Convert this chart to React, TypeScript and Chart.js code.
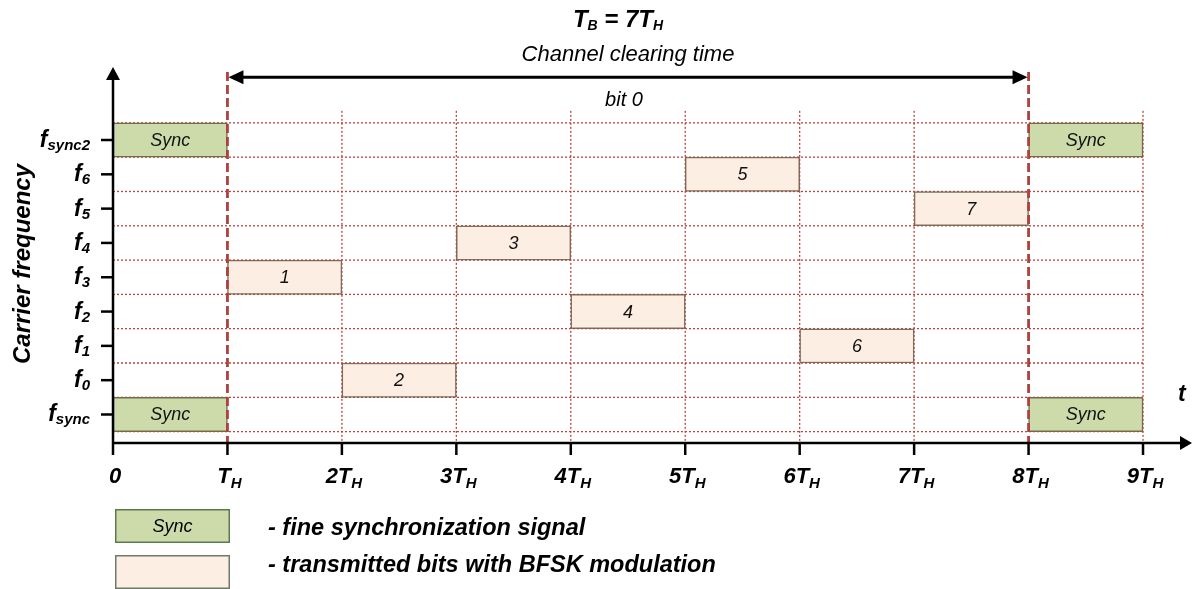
import React, { useEffect, useRef } from "react";
import { Chart, registerables } from "chart.js";

Chart.register(...registerables);

// ---- data ----
const rowMain = ["f", "f", "f", "f", "f", "f", "f", "f", "f"];
const rowSub = ["sync", "0", "1", "2", "3", "4", "5", "6", "sync2"];
const xTickMain = ["0", "T", "2T", "3T", "4T", "5T", "6T", "7T", "8T", "9T"];
const xTickSub = ["", "H", "H", "H", "H", "H", "H", "H", "H", "H"];
const xTickValues = [0, 1, 2, 3, 4, 5, 6, 7, 8, 9];

const syncStart = [0, 8, 0, 8];
const syncEnd = [1, 9, 1, 9];
const syncRow = [0, 0, 8, 8];
const syncText = ["Sync", "Sync", "Sync", "Sync"];

const bitStart = [1, 2, 3, 4, 5, 6, 7];
const bitEnd = [2, 3, 4, 5, 6, 7, 8];
const bitRow = [4, 1, 5, 3, 7, 2, 6];
const bitText = ["1", "2", "3", "4", "5", "6", "7"];

const boundaryMarks = [1, 8];
const gridX = [2, 3, 4, 5, 6, 7, 9];
const gridY = [-0.5, 0.5, 1.5, 2.5, 3.5, 4.5, 5.5, 6.5, 7.5, 8.5];

const legendLabels = ["- fine synchronization signal", "- transmitted bits with BFSK modulation"];
const yTitle = "Carrier frequency";
const bracketText = "Channel clearing time";
const bitLabel = "bit 0";

// ---- styles ----
const FONT = '"Liberation Sans", Arial, sans-serif';
const SYNC_FILL = "#cddbab";
const SYNC_BORDER = "#5b7a4c";
const BIT_FILL = "#fdeee3";
const BIT_BORDER = "#6e7b66";
const GRID = "#b8453f";
const DASH_RED = "#b0403b";

function drawParts(
  ctx: CanvasRenderingContext2D,
  parts: { t: string; sub: boolean }[],
  x: number,
  baseline: number,
  align: "left" | "center" | "right",
  mainFont: string,
  subFont: string,
  subDy: number
) {
  let total = 0;
  const widths = parts.map((p) => {
    ctx.font = p.sub ? subFont : mainFont;
    const w = ctx.measureText(p.t).width;
    total += w;
    return w;
  });
  let cx = align === "left" ? x : align === "center" ? x - total / 2 : x - total;
  ctx.textAlign = "left";
  ctx.textBaseline = "alphabetic";
  parts.forEach((p, i) => {
    ctx.font = p.sub ? subFont : mainFont;
    ctx.fillText(p.t, cx, baseline + (p.sub ? subDy : 0));
    cx += widths[i];
  });
}

function arrowHead(ctx: CanvasRenderingContext2D, tx: number, ty: number, dir: "up" | "left" | "right", len: number, half: number) {
  ctx.beginPath();
  ctx.moveTo(tx, ty);
  if (dir === "up") {
    ctx.lineTo(tx - half, ty + len);
    ctx.lineTo(tx + half, ty + len);
  } else if (dir === "left") {
    ctx.lineTo(tx + len, ty - half);
    ctx.lineTo(tx + len, ty + half);
  } else {
    ctx.lineTo(tx - len, ty - half);
    ctx.lineTo(tx - len, ty + half);
  }
  ctx.closePath();
  ctx.fill();
}

const diagramPlugin = {
  id: "diagram",
  afterDatasetsDraw(chart: any) {
    const ctx: CanvasRenderingContext2D = chart.ctx;
    const xs = chart.scales.x;
    const ys = chart.scales.y;
    const px = (v: number) => xs.getPixelForValue(v);
    const py = (v: number) => ys.getPixelForValue(v);
    const area = chart.chartArea;
    ctx.save();

    // dotted grid
    ctx.strokeStyle = GRID;
    ctx.lineWidth = 1.3;
    ctx.setLineDash([2, 2]);
    gridY.forEach((g) => {
      ctx.beginPath();
      ctx.moveTo(px(0), py(g));
      ctx.lineTo(px(9), py(g));
      ctx.stroke();
    });
    gridX.forEach((g) => {
      ctx.beginPath();
      ctx.moveTo(px(g), py(8.85));
      ctx.lineTo(px(g), area.bottom);
      ctx.stroke();
    });

    // dashed boundaries
    ctx.strokeStyle = DASH_RED;
    ctx.lineWidth = 2.8;
    ctx.setLineDash([9, 4]);
    boundaryMarks.forEach((b) => {
      ctx.beginPath();
      ctx.moveTo(px(b), py(9.98));
      ctx.lineTo(px(b), area.bottom);
      ctx.stroke();
    });
    ctx.setLineDash([]);

    // bar labels
    ctx.fillStyle = "#111";
    ctx.font = `italic 18px ${FONT}`;
    ctx.textAlign = "center";
    ctx.textBaseline = "middle";
    const texts = [syncText, bitText];
    chart.data.datasets.forEach((_: any, di: number) => {
      const meta = chart.getDatasetMeta(di);
      meta.data.forEach((el: any, i: number) => {
        const c = el.getCenterPoint();
        ctx.fillText(texts[di][i], c.x, c.y + 1);
      });
    });

    // axes
    ctx.strokeStyle = "#000";
    ctx.fillStyle = "#000";
    ctx.lineWidth = 2.5;
    const x0 = px(0);
    const yb = area.bottom;
    ctx.beginPath();
    ctx.moveTo(x0, yb);
    ctx.lineTo(x0, area.top + 8);
    ctx.stroke();
    arrowHead(ctx, x0, area.top, "up", 13, 7);
    ctx.beginPath();
    ctx.moveTo(x0, yb);
    ctx.lineTo(area.right - 8, yb);
    ctx.stroke();
    arrowHead(ctx, area.right, yb, "right", 12, 7);

    // y ticks and labels
    const mainF = `italic bold 23px ${FONT}`;
    const subF = `italic bold 15px ${FONT}`;
    rowSub.forEach((s, i) => {
      const y = py(i);
      ctx.beginPath();
      ctx.moveTo(x0 - 12, y);
      ctx.lineTo(x0, y);
      ctx.stroke();
      drawParts(ctx, [{ t: rowMain[i], sub: false }, { t: s, sub: true }], x0 - 23, y + 7, "right", mainF, subF, 3);
    });

    // x ticks and labels
    xTickValues.forEach((v, i) => {
      const x = px(v);
      ctx.beginPath();
      ctx.moveTo(x, yb);
      ctx.lineTo(x, yb + 12);
      ctx.stroke();
      const parts = [{ t: xTickMain[i], sub: false }];
      if (xTickSub[i]) parts.push({ t: xTickSub[i], sub: true });
      drawParts(ctx, parts, x + 2, yb + 40, "center", `italic bold 22px ${FONT}`, subF, 5);
    });

    // t label
    ctx.font = `italic bold 23px ${FONT}`;
    ctx.textAlign = "left";
    ctx.textBaseline = "alphabetic";
    ctx.fillText("t", area.right - 14, yb - 42);

    // y title
    ctx.save();
    ctx.translate(23, 264);
    ctx.rotate(-Math.PI / 2);
    ctx.font = `italic bold 24px ${FONT}`;
    ctx.textAlign = "center";
    ctx.textBaseline = "middle";
    ctx.fillText(yTitle, 0, 0);
    ctx.restore();

    // double arrow
    const ay = py(9.83);
    const ax1 = px(boundaryMarks[0]);
    const ax2 = px(boundaryMarks[1]);
    ctx.lineWidth = 3;
    ctx.beginPath();
    ctx.moveTo(ax1 + 10, ay);
    ctx.lineTo(ax2 - 10, ay);
    ctx.stroke();
    arrowHead(ctx, ax1 + 1, ay, "left", 15, 7);
    arrowHead(ctx, ax2 - 1, ay, "right", 15, 7);

    const midX = px((boundaryMarks[0] + boundaryMarks[1]) / 2);
    // title T_B = 7T_H
    drawParts(
      ctx,
      [
        { t: "T", sub: false },
        { t: "B", sub: true },
        { t: " = 7T", sub: false },
        { t: "H", sub: true },
      ],
      midX - 10,
      27,
      "center",
      `italic bold 24px ${FONT}`,
      `italic bold 14px ${FONT}`,
      3
    );
    ctx.font = `italic 22px ${FONT}`;
    ctx.textAlign = "center";
    ctx.textBaseline = "alphabetic";
    ctx.fillText(bracketText, midX, 61);
    ctx.font = `italic 20px ${FONT}`;
    ctx.fillText(bitLabel, midX - 4, 106);

    // legend
    const legFills = [SYNC_FILL, BIT_FILL];
    const legBorders = [SYNC_BORDER, BIT_BORDER];
    const legTop = [509, 555];
    const legBase = [535, 572];
    legendLabels.forEach((lab, i) => {
      ctx.fillStyle = legFills[i];
      ctx.fillRect(115, legTop[i], 115, 34);
      ctx.strokeStyle = legBorders[i];
      ctx.lineWidth = 1.5;
      ctx.strokeRect(115.75, legTop[i] + 0.75, 113.5, 32.5);
      ctx.fillStyle = "#000";
      if (i === 0) {
        ctx.font = `italic 18px ${FONT}`;
        ctx.textAlign = "center";
        ctx.textBaseline = "middle";
        ctx.fillText("Sync", 172.5, legTop[i] + 18);
      }
      ctx.font = `italic bold 23.5px ${FONT}`;
      ctx.textAlign = "left";
      ctx.textBaseline = "alphabetic";
      ctx.fillText(lab, 268, legBase[i]);
    });

    ctx.restore();
  },
};

export default function App() {
  const ref = useRef<HTMLCanvasElement | null>(null);
  useEffect(() => {
    if (!ref.current) return;
    const chart = new Chart(ref.current, {
      type: "bar",
      data: {
        datasets: [
          {
            label: "Sync",
            data: syncStart.map((s, i) => ({ x: [s, syncEnd[i]], y: syncRow[i] })) as any,
            backgroundColor: SYNC_FILL,
            borderColor: SYNC_BORDER,
            borderWidth: 1.5,
            borderSkipped: false,
            grouped: false,
            barPercentage: 1,
            categoryPercentage: 1,
          },
          {
            label: "Bits",
            data: bitStart.map((s, i) => ({ x: [s, bitEnd[i]], y: bitRow[i] })) as any,
            backgroundColor: BIT_FILL,
            borderColor: BIT_BORDER,
            borderWidth: 1.5,
            borderSkipped: false,
            grouped: false,
            barPercentage: 1,
            categoryPercentage: 1,
          },
        ],
      },
      options: {
        indexAxis: "y",
        animation: false,
        responsive: false,
        devicePixelRatio: 1,
        layout: { padding: { left: 113, right: 0, top: 67, bottom: 146 } },
        plugins: { legend: { display: false }, tooltip: { enabled: false } },
        scales: {
          x: {
            type: "linear",
            display: false,
            offset: false,
            min: 0,
            max: 9.428,
            afterBuildTicks: (s: any) => {
              s.ticks = xTickValues.map((v) => ({ value: v }));
            },
          },
          y: {
            type: "linear",
            display: false,
            offset: false,
            min: -0.831,
            max: 10.128,
            afterBuildTicks: (s: any) => {
              s.ticks = rowSub.map((_, i) => ({ value: i }));
            },
          },
        },
      },
      plugins: [diagramPlugin],
    } as any);
    return () => chart.destroy();
  }, []);
  return (
    <div style={{ position: "absolute", left: 0, top: 0, width: 1192, height: 589, background: "#fff" }}>
      <canvas ref={ref} width={1192} height={589} style={{ width: 1192, height: 589, display: "block" }} />
    </div>
  );
}
